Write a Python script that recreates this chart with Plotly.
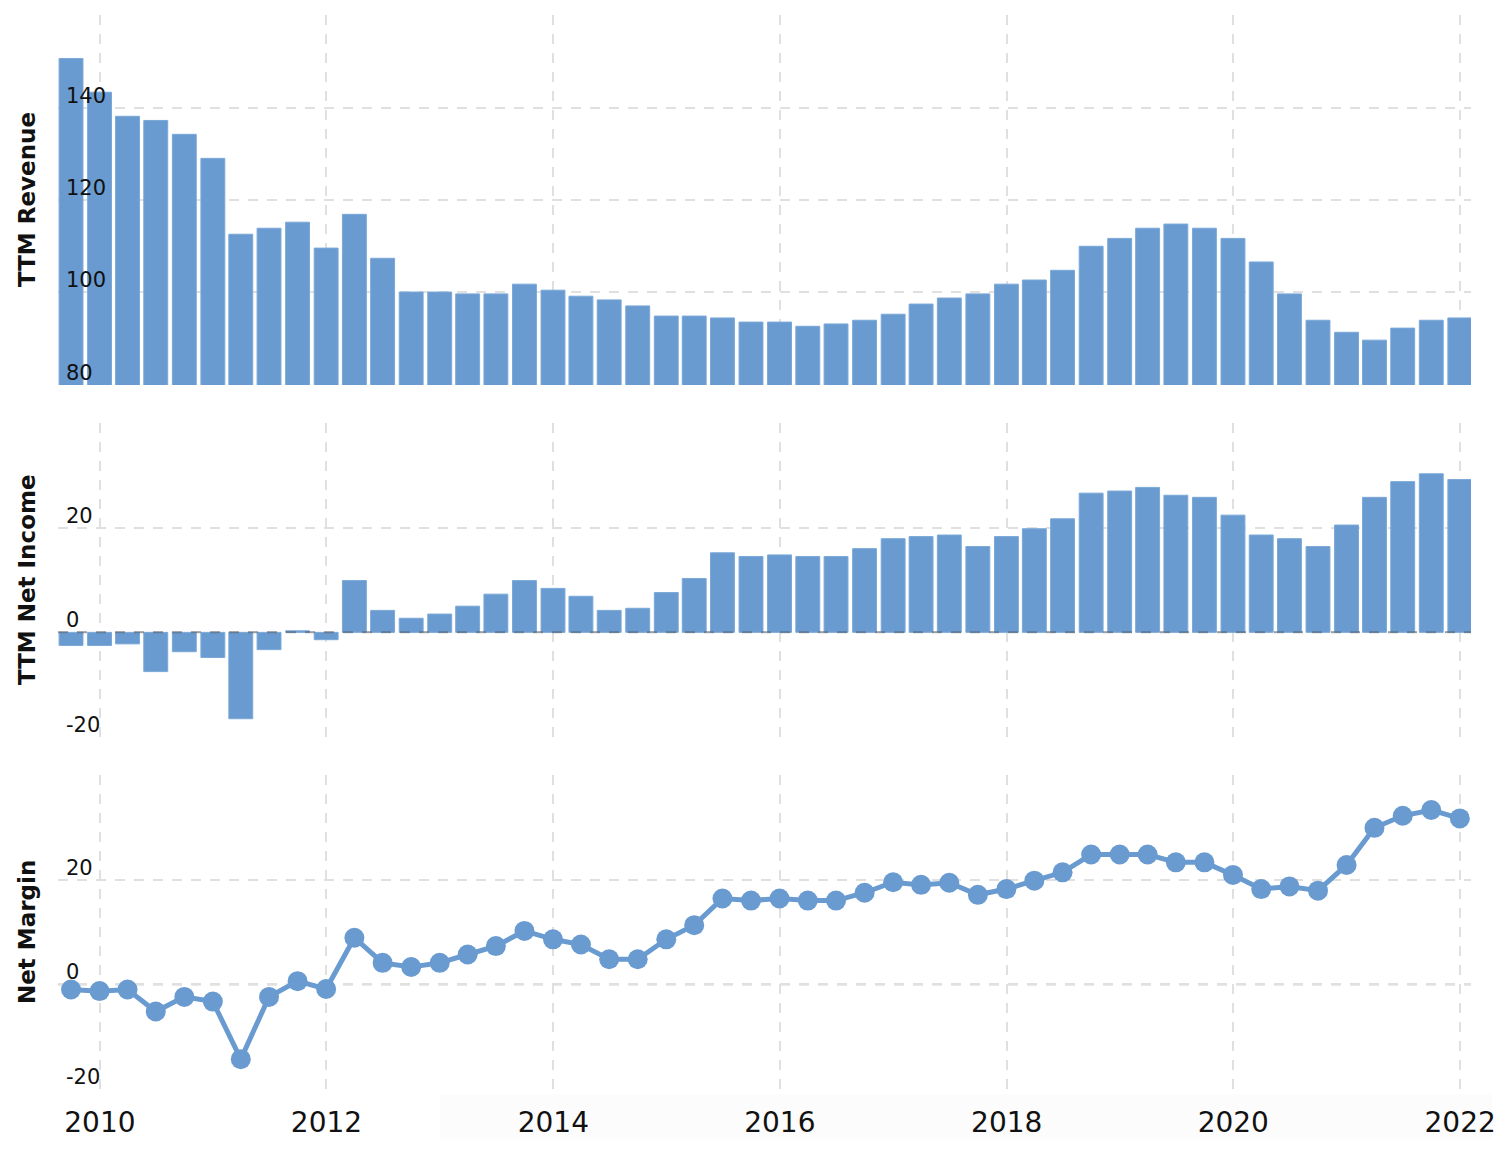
import plotly.graph_objects as go
from plotly.subplots import make_subplots

# ---- data ----
quarters = [
    "2009-09-30", "2009-12-31", "2010-03-31", "2010-06-30", "2010-09-30", "2010-12-31",
    "2011-03-31", "2011-06-30", "2011-09-30", "2011-12-31", "2012-03-31", "2012-06-30",
    "2012-09-30", "2012-12-31", "2013-03-31", "2013-06-30", "2013-09-30", "2013-12-31",
    "2014-03-31", "2014-06-30", "2014-09-30", "2014-12-31", "2015-03-31", "2015-06-30",
    "2015-09-30", "2015-12-31", "2016-03-31", "2016-06-30", "2016-09-30", "2016-12-31",
    "2017-03-31", "2017-06-30", "2017-09-30", "2017-12-31", "2018-03-31", "2018-06-30",
    "2018-09-30", "2018-12-31", "2019-03-31", "2019-06-30", "2019-09-30", "2019-12-31",
    "2020-03-31", "2020-06-30", "2020-09-30", "2020-12-31", "2021-03-31", "2021-06-30",
    "2021-09-30", "2021-12-31",
]

ttm_revenue = [
    150.6, 143.3, 138.1, 137.2, 134.2, 129.0, 112.6, 113.9, 115.2, 109.6,
    116.9, 107.4, 100.1, 100.1, 99.7, 99.7, 101.8, 100.5, 99.2, 98.4,
    97.1, 94.9, 94.9, 94.5, 93.6, 93.6, 92.7, 93.2, 94.0, 95.3,
    97.5, 98.8, 99.7, 101.8, 102.7, 104.8, 110.0, 111.7, 113.9, 114.8,
    113.9, 111.7, 106.6, 99.7, 94.0, 91.4, 89.7, 92.3, 94.0, 94.5,
]

ttm_net_income = [
    -2.5, -2.5, -2.2, -7.5, -3.7, -4.8, -16.5, -3.3, 0.3, -1.4,
    9.9, 4.2, 2.7, 3.5, 5.0, 7.3, 9.9, 8.4, 6.9, 4.2,
    4.6, 7.6, 10.3, 15.2, 14.5, 14.8, 14.5, 14.5, 16.0, 17.9,
    18.3, 18.6, 16.4, 18.3, 19.8, 21.7, 26.6, 27.0, 27.7, 26.2,
    25.8, 22.4, 18.6, 17.9, 16.4, 20.5, 25.8, 28.8, 30.3, 29.2,
]

net_margin = [
    -1.0, -1.3, -1.0, -5.2, -2.4, -3.3, -14.3, -2.4, 0.6, -0.9,
    8.9, 4.1, 3.3, 4.1, 5.7, 7.3, 10.2, 8.6, 7.6, 4.8,
    4.8, 8.6, 11.3, 16.4, 16.0, 16.4, 16.0, 16.0, 17.5, 19.5,
    19.0, 19.4, 17.1, 18.2, 19.8, 21.4, 24.8, 24.8, 24.8, 23.3,
    23.3, 20.9, 18.2, 18.7, 17.9, 22.8, 29.9, 32.2, 33.3, 31.7,
]

rev_tickvals = [80, 100, 120, 140, 160]
rev_ticktext = ["80", "100", "120", "140", ""]
ni_tickvals = [-20, 0, 20, 40]
ni_ticktext = ["-20", "0", "20", ""]
nm_tickvals = [-20, 0, 20, 40]
nm_ticktext = ["-20", "0", "20", ""]

panel_titles = ["TTM Revenue", "TTM Net Income", "Net Margin"]

# ---- style ----
BLUE = "#6a9bd0"
GRID = "#e0e0e0"
GRIDDASH = "10px,9px"
FONT = "DejaVu Sans"
BAR_WIDTH_MS = 77 * 86400000

fig = make_subplots(rows=3, cols=1, shared_xaxes=True, vertical_spacing=0.03)

fig.add_trace(go.Bar(x=quarters, y=ttm_revenue, marker=dict(color=BLUE, line=dict(color="#7aa8d8", width=1)),
                     width=BAR_WIDTH_MS, showlegend=False), row=1, col=1)
fig.add_trace(go.Bar(x=quarters, y=ttm_net_income, marker=dict(color=BLUE, line=dict(color="#7aa8d8", width=1)),
                     width=BAR_WIDTH_MS, showlegend=False), row=2, col=1)
fig.add_trace(go.Scatter(x=quarters, y=net_margin, mode="lines+markers",
                         line=dict(color=BLUE, width=5),
                         marker=dict(color=BLUE, size=20),
                         showlegend=False, cliponaxis=False), row=3, col=1)

# domains (pixel-derived)
fig.update_layout(
    yaxis=dict(domain=[0.6555, 1.0]),
    yaxis2=dict(domain=[0.3277, 0.6201]),
    yaxis3=dict(domain=[0.0, 0.2924]),
)

fig.update_xaxes(
    type="date",
    range=["2009-08-19", "2022-02-05"],
    tick0="2010-01-01", dtick="M24", tickformat="%Y",
    showgrid=True, gridcolor=GRID, griddash=GRIDDASH, gridwidth=2,
    showline=False, zeroline=False, ticks="",
    tickfont=dict(family=FONT, size=28, color="#111111"),
    ticklabelstandoff=14,
)

common_y = dict(
    showgrid=True, gridcolor=GRID, griddash=GRIDDASH, gridwidth=2,
    showline=False, zeroline=False, ticks="", showticklabels=False,
    tickmode="array",
)
fig.update_yaxes(range=[80, 160], tickvals=rev_tickvals, ticktext=rev_ticktext, row=1, col=1, **common_y)
fig.update_yaxes(range=[-20, 40], tickvals=ni_tickvals, ticktext=ni_ticktext, row=2, col=1, **common_y)
fig.update_yaxes(range=[-20, 40], tickvals=nm_tickvals, ticktext=nm_ticktext, row=3, col=1, **common_y)

# tick labels drawn inside the plot, just above their gridlines
for yref, vals, texts in [("y", rev_tickvals, rev_ticktext),
                          ("y2", ni_tickvals, ni_ticktext),
                          ("y3", nm_tickvals, nm_ticktext)]:
    for v, t in zip(vals, texts):
        if not t:
            continue
        fig.add_annotation(text=t, xref="paper", x=0, xanchor="left", xshift=6,
                           yref=yref, y=v, yanchor="middle", yshift=12,
                           showarrow=False,
                           font=dict(family=FONT, size=21, color="#111111"))

# dashed zero lines
fig.add_shape(type="line", xref="paper", x0=0, x1=1, yref="y2", y0=0, y1=0,
              line=dict(color="rgba(60,60,60,0.4)", width=2, dash=GRIDDASH), layer="above")
fig.add_shape(type="line", xref="paper", x0=0, x1=1, yref="y3", y0=0, y1=0,
              line=dict(color="#a9a9a9", width=2, dash=GRIDDASH), layer="below")

# faint band under x-axis labels
fig.add_shape(type="rect", xref="paper", yref="paper", x0=0.270, x1=1.015, y0=-0.047, y1=-0.005,
              fillcolor="rgba(0,0,0,0.010)", line=dict(width=0), layer="below")

# panel titles (rotated)
for ydom, title in zip(["y domain", "y2 domain", "y3 domain"], panel_titles):
    fig.add_annotation(text="<b>" + title + "</b>", xref="paper", yref=ydom,
                       x=-0.0219, y=0.5, xanchor="center", yanchor="middle",
                       textangle=-90, showarrow=False,
                       font=dict(family=FONT, size=23, color="#111111"))

fig.update_layout(
    width=1508, height=1155,
    margin=dict(l=58, r=35, t=15, b=66),
    paper_bgcolor="white", plot_bgcolor="white",
    bargap=0.15,
    font=dict(family=FONT),
)

fig.write_html("out.html")
